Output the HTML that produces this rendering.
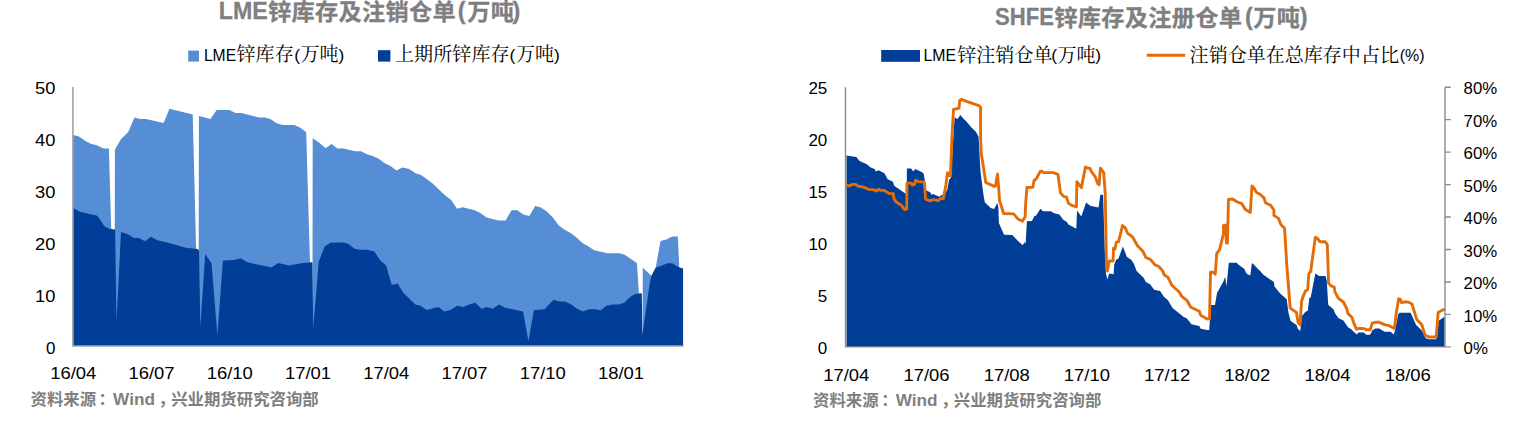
<!DOCTYPE html>
<html lang="zh"><head><meta charset="utf-8"><title>LME / SHFE 锌库存</title>
<style>html,body{margin:0;padding:0;background:#fff}svg{display:block}</style></head><body>
<svg width="1530" height="422" viewBox="0 0 1530 422">
<rect width="1530" height="422" fill="#fff"/>
<g id="left-chart">
<polygon points="73.0,346.0 73.0,134.9 79.0,136.5 85.9,141.2 90.8,143.8 96.7,145.3 103.6,148.5 108.9,148.5 114.6,346.0 114.9,149.7 120.9,139.2 128.2,132.0 134.5,117.4 140.0,119.0 145.9,119.0 163.6,123.1 169.5,108.8 192.7,114.5 198.6,346.0 198.9,116.0 210.4,119.0 216.7,110.1 229.5,110.1 235.4,112.9 241.3,112.9 259.0,117.4 264.9,117.4 270.8,119.2 276.7,123.3 282.6,124.9 294.4,124.9 300.3,127.8 306.2,132.2 312.4,346.0 312.7,138.3 319.3,142.7 325.6,148.2 331.5,144.1 337.4,148.4 343.3,148.4 355.1,151.3 361.0,151.3 366.9,154.3 372.8,155.9 378.7,158.8 384.6,163.2 390.5,166.1 396.4,170.4 402.3,167.5 409.3,169.0 415.9,173.6 421.1,175.0 433.0,183.8 445.2,195.6 451.2,200.0 457.0,208.8 462.6,207.2 474.8,210.2 480.3,213.0 486.6,217.5 498.4,220.4 505.6,220.4 511.5,210.2 517.4,210.2 523.4,214.5 529.3,216.1 535.2,205.9 541.0,207.4 547.0,211.8 552.9,217.5 558.8,225.4 564.7,229.7 570.6,233.0 576.5,237.4 582.4,242.9 587.7,245.9 594.2,250.2 607.4,253.2 619.2,253.2 624.7,254.7 636.9,263.0 642.5,346.0 642.8,267.7 648.7,273.2 651.5,275.8 654.6,274.0 660.5,241.0 666.4,239.6 672.3,236.6 677.8,236.6 683.1,346.0 683.1,346.0" fill="#558ED5"/>
<polygon points="73.0,346.0 73.0,207.8 79.7,211.7 97.4,215.7 104.3,226.1 109.2,228.8 115.1,229.4 116.5,322.1 121.0,232.0 127.9,234.3 133.8,237.9 138.7,237.9 145.0,241.2 150.9,236.7 157.4,240.3 168.2,242.8 185.9,247.7 197.7,249.1 199.0,250.5 200.3,327.0 205.2,254.0 211.5,263.5 217.4,335.0 222.9,260.5 234.1,259.9 240.6,258.3 246.9,261.9 258.7,264.8 271.5,267.4 278.0,262.9 289.2,265.4 301.0,263.3 311.8,262.3 312.4,262.5 313.2,328.6 318.7,261.9 324.6,246.5 330.5,242.8 343.3,242.4 347.9,243.8 354.8,248.7 359.7,249.7 367.5,249.7 374.4,251.6 380.3,260.5 386.2,265.4 391.7,285.1 397.6,283.5 403.5,293.0 415.3,304.4 420.7,305.7 426.6,310.1 438.4,307.1 444.3,311.6 450.2,310.1 457.4,305.7 463.4,307.1 469.3,304.4 475.2,302.8 481.6,308.7 487.0,307.1 492.9,308.7 498.8,304.4 505.3,307.7 523.0,311.6 528.5,341.2 533.8,310.3 544.6,309.3 553.5,299.8 559.4,301.4 565.3,301.4 571.2,304.4 577.1,308.7 583.0,311.6 588.9,309.3 594.8,309.3 600.7,310.3 606.6,305.7 612.5,304.4 618.4,304.4 624.3,302.8 630.2,296.9 635.1,293.9 641.0,293.2 641.8,293.5 642.4,334.9 647.7,297.6 649.7,283.9 651.7,275.0 655.6,267.7 661.5,265.8 667.4,263.2 672.3,263.2 678.2,267.1 683.1,268.5 683.1,346.0" fill="#003E98"/>
<path d="M72.9 87 V346 H683.4" fill="none" stroke="#a3a3a3" stroke-width="1.6"/>
<text font-family="&quot;Liberation Sans&quot;, &quot;Noto Sans CJK SC&quot;, sans-serif" fill="#7f7f7f" font-weight="bold" stroke="#7f7f7f" stroke-width="0.3"><tspan x="218.8" y="18.6" font-size="23.5" textLength="49.0" lengthAdjust="spacingAndGlyphs">LME</tspan><tspan x="268.0" y="19.6" font-size="23.2" letter-spacing="0.3">锌库存及注销仓单</tspan><tspan x="457.8" y="18.6" font-size="23.5">(</tspan><tspan x="467.2" y="19.6" font-size="23.2" letter-spacing="0.3">万吨</tspan><tspan x="512.6" y="18.6" font-size="23.5">)</tspan></text>
<rect x="188.2" y="50.6" width="10.8" height="11" fill="#558ED5"/>
<text font-family="&quot;Liberation Sans&quot;, &quot;Noto Serif CJK SC&quot;, serif" fill="#000"><tspan x="203.9" y="60.9" font-size="17.4" textLength="32.2" lengthAdjust="spacingAndGlyphs">LME</tspan><tspan x="236.4" y="61.4" font-size="19.05" letter-spacing="0.12">锌库存</tspan><tspan x="294.2" y="60.9" font-size="17.4">(</tspan><tspan x="300.4" y="61.4" font-size="19.05" letter-spacing="0.12">万吨</tspan><tspan x="338.4" y="60.9" font-size="17.4">)</tspan></text>
<rect x="378" y="50.2" width="12.4" height="11.4" fill="#003E98"/>
<text font-family="&quot;Liberation Sans&quot;, &quot;Noto Serif CJK SC&quot;, serif" fill="#000"><tspan x="395.0" y="61.4" font-size="19.05" letter-spacing="0.08">上期所锌库存</tspan><tspan x="509.6" y="60.9" font-size="17.4">(</tspan><tspan x="516.0" y="61.4" font-size="19.05" letter-spacing="0.08">万吨</tspan><tspan x="554.0" y="60.9" font-size="17.4">)</tspan></text>
<text x="55.5" y="94.1" font-size="17" text-anchor="end" textLength="20.4" lengthAdjust="spacingAndGlyphs" fill="#000" font-family="&quot;Liberation Sans&quot;, &quot;Noto Sans CJK SC&quot;, sans-serif">50</text>
<text x="55.5" y="146.1" font-size="17" text-anchor="end" textLength="20.4" lengthAdjust="spacingAndGlyphs" fill="#000" font-family="&quot;Liberation Sans&quot;, &quot;Noto Sans CJK SC&quot;, sans-serif">40</text>
<text x="55.5" y="198.1" font-size="17" text-anchor="end" textLength="20.4" lengthAdjust="spacingAndGlyphs" fill="#000" font-family="&quot;Liberation Sans&quot;, &quot;Noto Sans CJK SC&quot;, sans-serif">30</text>
<text x="55.5" y="250.1" font-size="17" text-anchor="end" textLength="20.4" lengthAdjust="spacingAndGlyphs" fill="#000" font-family="&quot;Liberation Sans&quot;, &quot;Noto Sans CJK SC&quot;, sans-serif">20</text>
<text x="55.5" y="302.1" font-size="17" text-anchor="end" textLength="20.4" lengthAdjust="spacingAndGlyphs" fill="#000" font-family="&quot;Liberation Sans&quot;, &quot;Noto Sans CJK SC&quot;, sans-serif">10</text>
<text x="55.5" y="354.1" font-size="17" text-anchor="end" fill="#000" font-family="&quot;Liberation Sans&quot;, &quot;Noto Sans CJK SC&quot;, sans-serif">0</text>
<text x="73.3" y="378.9" font-size="17" text-anchor="middle" textLength="46.1" lengthAdjust="spacingAndGlyphs" fill="#000" font-family="&quot;Liberation Sans&quot;, &quot;Noto Sans CJK SC&quot;, sans-serif">16/04</text>
<text x="151.55" y="378.9" font-size="17" text-anchor="middle" textLength="46.1" lengthAdjust="spacingAndGlyphs" fill="#000" font-family="&quot;Liberation Sans&quot;, &quot;Noto Sans CJK SC&quot;, sans-serif">16/07</text>
<text x="229.8" y="378.9" font-size="17" text-anchor="middle" textLength="46.1" lengthAdjust="spacingAndGlyphs" fill="#000" font-family="&quot;Liberation Sans&quot;, &quot;Noto Sans CJK SC&quot;, sans-serif">16/10</text>
<text x="308.05" y="378.9" font-size="17" text-anchor="middle" textLength="46.1" lengthAdjust="spacingAndGlyphs" fill="#000" font-family="&quot;Liberation Sans&quot;, &quot;Noto Sans CJK SC&quot;, sans-serif">17/01</text>
<text x="386.3" y="378.9" font-size="17" text-anchor="middle" textLength="46.1" lengthAdjust="spacingAndGlyphs" fill="#000" font-family="&quot;Liberation Sans&quot;, &quot;Noto Sans CJK SC&quot;, sans-serif">17/04</text>
<text x="464.55" y="378.9" font-size="17" text-anchor="middle" textLength="46.1" lengthAdjust="spacingAndGlyphs" fill="#000" font-family="&quot;Liberation Sans&quot;, &quot;Noto Sans CJK SC&quot;, sans-serif">17/07</text>
<text x="542.8" y="378.9" font-size="17" text-anchor="middle" textLength="46.1" lengthAdjust="spacingAndGlyphs" fill="#000" font-family="&quot;Liberation Sans&quot;, &quot;Noto Sans CJK SC&quot;, sans-serif">17/10</text>
<text x="621.05" y="378.9" font-size="17" text-anchor="middle" textLength="46.1" lengthAdjust="spacingAndGlyphs" fill="#000" font-family="&quot;Liberation Sans&quot;, &quot;Noto Sans CJK SC&quot;, sans-serif">18/01</text>
<text font-family="&quot;Liberation Sans&quot;, &quot;Noto Sans CJK SC&quot;, sans-serif" fill="#7f7f7f" font-weight="bold"><tspan x="30.5" y="405.2" font-size="16.4">资料来源</tspan><tspan x="98.6" y="405.2" font-size="16.4">：</tspan><tspan x="113.1" y="404.9" font-size="17.2">Wind</tspan><tspan x="158.6" y="405.2" font-size="16.4">，</tspan><tspan x="171.2" y="405.2" font-size="16.4">兴业期货研究咨询部</tspan></text>
</g>
<g id="right-chart">
<polygon points="846.5,346.9 846.5,155.4 856.3,157.0 859.6,160.9 866.8,164.2 870.7,167.5 874.6,169.0 875.9,171.4 878.6,170.3 884.4,173.3 887.7,179.2 892.9,181.8 894.2,185.8 905.4,193.6 906.7,193.6 906.9,168.5 911.2,168.5 913.2,171.4 915.2,169.0 921.7,172.0 923.7,173.7 925.0,181.8 926.3,190.6 930.2,192.3 931.5,194.8 933.1,193.9 939.3,196.8 942.0,194.8 943.9,195.5 947.2,189.7 949.2,179.5 951.1,177.5 952.5,150.0 954.6,118.0 955.4,117.4 957.4,119.3 960.3,115.0 963.3,118.4 966.2,121.3 971.2,127.2 976.1,132.1 978.6,137.1 980.0,162.6 980.5,171.4 982.2,185.0 983.5,195.0 984.8,202.2 990.7,208.1 994.2,208.9 997.3,203.0 998.4,207.6 998.9,223.0 1003.8,234.2 1004.7,234.7 1012.3,234.9 1017.5,240.6 1022.7,245.3 1024.7,242.1 1025.6,244.0 1026.9,221.3 1031.9,221.0 1034.6,215.8 1035.8,215.9 1040.4,208.7 1043.0,211.3 1050.8,211.3 1054.1,213.3 1059.3,214.6 1063.3,219.8 1066.5,221.8 1068.5,224.4 1076.3,228.7 1077.0,210.4 1081.3,216.6 1086.1,202.4 1090.2,205.7 1098.5,207.6 1100.4,194.5 1103.1,194.9 1104.8,249.9 1105.9,272.8 1107.2,279.4 1109.2,273.5 1113.7,274.2 1114.1,264.7 1116.3,259.4 1118.3,258.8 1122.9,246.6 1126.8,256.8 1131.4,260.1 1134.0,264.0 1136.6,270.9 1143.8,278.1 1145.8,282.0 1150.3,284.6 1154.2,289.8 1160.1,291.1 1164.1,297.0 1168.0,300.2 1172.5,308.0 1181.0,314.7 1183.7,317.0 1186.9,318.4 1191.5,324.2 1199.3,326.1 1200.7,328.8 1207.2,330.1 1209.2,330.1 1210.9,305.0 1215.0,305.0 1217.0,293.1 1223.5,281.3 1225.2,276.8 1226.5,286.6 1228.8,262.7 1236.6,262.7 1238.6,264.7 1244.4,268.9 1246.4,273.5 1250.3,275.5 1251.6,265.0 1252.3,263.1 1258.2,269.2 1259.5,270.2 1263.4,274.8 1273.9,282.0 1274.5,286.6 1280.2,293.6 1286.7,299.2 1288.5,313.0 1290.5,320.8 1296.8,325.2 1297.6,328.5 1300.3,331.1 1301.6,318.1 1302.2,315.8 1305.5,311.7 1307.7,310.8 1309.4,297.7 1310.7,297.5 1315.3,273.6 1319.2,275.9 1325.5,275.9 1326.8,280.8 1328.2,304.8 1333.6,309.4 1334.9,313.0 1338.2,317.9 1343.4,320.5 1348.0,327.2 1351.2,329.2 1354.5,332.5 1357.1,334.4 1358.4,332.5 1363.7,332.5 1366.3,334.8 1370.2,334.8 1372.2,330.5 1375.4,328.5 1379.3,328.5 1384.6,331.8 1390.5,331.8 1393.7,334.4 1395.0,330.5 1398.3,314.2 1399.6,312.7 1410.7,312.7 1416.0,324.7 1421.8,330.5 1425.8,338.3 1429.0,339.2 1436.2,339.2 1437.5,331.1 1438.8,320.8 1444.1,317.0 1444.6,317.0 1444.6,346.9" fill="#003E98"/>
<polyline points="845.9,185.1 849.2,186.0 852.4,184.4 855.7,184.4 857.6,186.0 863.5,187.1 868.8,189.4 874.6,189.9 876.6,191.0 878.6,189.4 880.5,190.3 884.4,190.5 889.0,193.4 893.3,193.8 893.9,198.7 896.2,202.0 901.4,205.3 904.7,209.6 906.7,209.2 907.0,183.1 911.2,183.1 912.5,185.1 914.5,184.4 915.6,180.3 918.4,181.6 924.3,182.1 925.6,199.1 930.2,200.9 933.5,199.6 938.0,200.7 941.3,198.1 943.3,198.7 945.9,185.0 947.5,172.7 948.5,175.3 950.5,175.9 951.8,140.0 953.5,109.5 959.0,108.1 959.7,100.7 961.3,99.3 967.2,101.6 979.0,105.6 980.6,107.5 980.6,137.0 981.2,153.1 982.7,162.6 985.8,182.5 994.2,186.4 995.6,185.8 997.5,174.2 998.8,189.7 999.5,200.7 999.9,201.5 1003.6,213.5 1013.7,213.9 1017.6,218.7 1022.4,221.2 1025.2,216.5 1025.6,204.6 1026.9,187.5 1032.8,187.2 1034.1,180.5 1036.2,178.9 1040.3,171.2 1041.6,171.2 1043.5,172.6 1053.3,172.6 1057.9,174.3 1060.5,192.9 1063.8,196.6 1066.4,196.9 1068.4,203.1 1071.7,205.4 1076.4,206.8 1076.9,181.8 1081.4,187.7 1085.4,167.0 1087.3,168.1 1089.9,168.1 1091.2,171.3 1095.2,176.6 1097.8,183.8 1099.1,184.8 1100.4,168.1 1103.7,172.6 1105.2,192.9 1105.6,215.0 1106.5,267.3 1107.3,271.0 1109.2,261.0 1113.1,261.0 1113.5,248.3 1115.0,249.0 1116.3,242.2 1118.6,241.6 1122.5,225.6 1125.5,228.2 1127.4,233.1 1132.6,237.0 1137.5,245.8 1143.1,251.6 1145.8,257.5 1150.3,259.4 1154.9,264.7 1158.8,266.5 1162.7,270.9 1164.1,274.8 1168.0,277.4 1171.9,285.3 1179.7,292.5 1181.7,296.4 1186.9,300.3 1190.8,307.3 1199.3,311.3 1200.7,315.2 1207.2,319.0 1209.5,318.8 1210.5,272.2 1213.1,272.2 1215.3,274.2 1216.4,258.0 1216.7,253.6 1219.6,249.6 1223.5,233.3 1223.5,225.5 1225.5,225.2 1226.5,243.1 1227.4,243.1 1228.1,215.0 1228.5,199.4 1232.7,199.0 1237.3,202.0 1241.8,203.7 1245.1,209.2 1250.3,212.5 1252.0,185.9 1254.2,188.3 1256.2,192.2 1260.1,194.2 1264.1,198.1 1265.4,202.7 1270.6,205.3 1273.9,209.9 1273.9,215.4 1278.4,218.4 1281.0,224.8 1284.6,228.3 1286.9,267.0 1287.2,270.0 1290.2,308.1 1296.4,312.4 1298.1,322.5 1300.0,324.8 1301.6,301.4 1302.9,296.8 1305.5,290.9 1307.7,289.6 1308.8,273.9 1310.7,271.4 1315.3,237.4 1317.3,238.1 1319.9,241.7 1325.1,241.7 1327.3,244.6 1328.6,283.1 1331.0,285.9 1334.2,287.0 1334.9,291.6 1338.2,298.1 1343.4,302.0 1346.7,308.6 1348.0,313.6 1351.9,317.2 1353.9,323.3 1356.5,329.2 1358.4,328.5 1363.7,328.5 1366.3,329.8 1370.2,329.8 1372.2,323.1 1375.4,322.3 1379.3,322.3 1384.6,324.6 1389.2,325.7 1394.4,328.5 1396.3,312.8 1398.7,298.8 1400.3,299.4 1401.6,302.7 1404.2,302.0 1408.1,302.0 1412.0,304.0 1416.6,319.2 1421.8,324.7 1425.1,335.1 1429.0,337.0 1436.2,337.0 1438.2,312.3 1444.8,309.0" fill="none" stroke="#E36C09" stroke-width="2.9" stroke-linejoin="round" stroke-linecap="butt"/>
<path d="M845.5 87.2 V346.9 H1445 V87.2" fill="none" stroke="#8c8c8c" stroke-width="1.4"/>
<path d="M1445 87.20 h5.8M1445 119.66 h5.8M1445 152.12 h5.8M1445 184.58 h5.8M1445 217.04 h5.8M1445 249.50 h5.8M1445 281.96 h5.8M1445 314.42 h5.8M1445 346.88 h5.8" fill="none" stroke="#8c8c8c" stroke-width="1.4"/>
<text font-family="&quot;Liberation Sans&quot;, &quot;Noto Sans CJK SC&quot;, sans-serif" fill="#7f7f7f" font-weight="bold" stroke="#7f7f7f" stroke-width="0.3"><tspan x="995.1" y="24.6" font-size="23.5" textLength="58.9" lengthAdjust="spacingAndGlyphs">SHFE</tspan><tspan x="1054.3" y="25.6" font-size="23.2" letter-spacing="0.3">锌库存及注册仓单</tspan><tspan x="1244.9" y="24.6" font-size="23.5">(</tspan><tspan x="1253.3" y="25.6" font-size="23.2" letter-spacing="0.3">万吨</tspan><tspan x="1299.8" y="24.6" font-size="23.5">)</tspan></text>
<rect x="881.2" y="50" width="38.8" height="11.8" fill="#003E98"/>
<text font-family="&quot;Liberation Sans&quot;, &quot;Noto Serif CJK SC&quot;, serif" fill="#000"><tspan x="923.5" y="61.1" font-size="17.4" textLength="32.6" lengthAdjust="spacingAndGlyphs">LME</tspan><tspan x="957.3" y="61.6" font-size="19.05">锌注销仓单</tspan><tspan x="1051.2" y="61.1" font-size="17.4">(</tspan><tspan x="1057.4" y="61.6" font-size="19.05">万吨</tspan><tspan x="1095.3" y="61.1" font-size="17.4">)</tspan></text>
<path d="M1146.8 55.2 H1185.2" stroke="#E36C09" stroke-width="3" fill="none"/>
<text font-family="&quot;Liberation Sans&quot;, &quot;Noto Serif CJK SC&quot;, serif" fill="#000"><tspan x="1189.6" y="61.6" font-size="19.05">注销仓单在总库存中占比</tspan><tspan x="1399.8" y="61.1" font-size="17.4" textLength="24.8" lengthAdjust="spacingAndGlyphs">(%)</tspan></text>
<text x="827.3" y="94.1" font-size="17" text-anchor="end" fill="#000" font-family="&quot;Liberation Sans&quot;, &quot;Noto Sans CJK SC&quot;, sans-serif">25</text>
<text x="827.3" y="146.1" font-size="17" text-anchor="end" fill="#000" font-family="&quot;Liberation Sans&quot;, &quot;Noto Sans CJK SC&quot;, sans-serif">20</text>
<text x="827.3" y="198.1" font-size="17" text-anchor="end" fill="#000" font-family="&quot;Liberation Sans&quot;, &quot;Noto Sans CJK SC&quot;, sans-serif">15</text>
<text x="827.3" y="250.1" font-size="17" text-anchor="end" fill="#000" font-family="&quot;Liberation Sans&quot;, &quot;Noto Sans CJK SC&quot;, sans-serif">10</text>
<text x="827.3" y="302.1" font-size="17" text-anchor="end" fill="#000" font-family="&quot;Liberation Sans&quot;, &quot;Noto Sans CJK SC&quot;, sans-serif">5</text>
<text x="827.3" y="354.1" font-size="17" text-anchor="end" fill="#000" font-family="&quot;Liberation Sans&quot;, &quot;Noto Sans CJK SC&quot;, sans-serif">0</text>
<text x="1463.6" y="94.0" font-size="17" textLength="33.6" lengthAdjust="spacingAndGlyphs" fill="#000" font-family="&quot;Liberation Sans&quot;, &quot;Noto Sans CJK SC&quot;, sans-serif">80%</text>
<text x="1463.6" y="126.5" font-size="17" textLength="33.6" lengthAdjust="spacingAndGlyphs" fill="#000" font-family="&quot;Liberation Sans&quot;, &quot;Noto Sans CJK SC&quot;, sans-serif">70%</text>
<text x="1463.6" y="159.0" font-size="17" textLength="33.6" lengthAdjust="spacingAndGlyphs" fill="#000" font-family="&quot;Liberation Sans&quot;, &quot;Noto Sans CJK SC&quot;, sans-serif">60%</text>
<text x="1463.6" y="191.5" font-size="17" textLength="33.6" lengthAdjust="spacingAndGlyphs" fill="#000" font-family="&quot;Liberation Sans&quot;, &quot;Noto Sans CJK SC&quot;, sans-serif">50%</text>
<text x="1463.6" y="224.0" font-size="17" textLength="33.6" lengthAdjust="spacingAndGlyphs" fill="#000" font-family="&quot;Liberation Sans&quot;, &quot;Noto Sans CJK SC&quot;, sans-serif">40%</text>
<text x="1463.6" y="256.5" font-size="17" textLength="33.6" lengthAdjust="spacingAndGlyphs" fill="#000" font-family="&quot;Liberation Sans&quot;, &quot;Noto Sans CJK SC&quot;, sans-serif">30%</text>
<text x="1463.6" y="289.0" font-size="17" textLength="33.6" lengthAdjust="spacingAndGlyphs" fill="#000" font-family="&quot;Liberation Sans&quot;, &quot;Noto Sans CJK SC&quot;, sans-serif">20%</text>
<text x="1463.6" y="321.5" font-size="17" textLength="33.6" lengthAdjust="spacingAndGlyphs" fill="#000" font-family="&quot;Liberation Sans&quot;, &quot;Noto Sans CJK SC&quot;, sans-serif">10%</text>
<text x="1463.6" y="354.0" font-size="17" textLength="24.3" lengthAdjust="spacingAndGlyphs" fill="#000" font-family="&quot;Liberation Sans&quot;, &quot;Noto Sans CJK SC&quot;, sans-serif">0%</text>
<text x="846.3" y="381" font-size="17" text-anchor="middle" textLength="46.1" lengthAdjust="spacingAndGlyphs" fill="#000" font-family="&quot;Liberation Sans&quot;, &quot;Noto Sans CJK SC&quot;, sans-serif">17/04</text>
<text x="926.5" y="381" font-size="17" text-anchor="middle" textLength="46.1" lengthAdjust="spacingAndGlyphs" fill="#000" font-family="&quot;Liberation Sans&quot;, &quot;Noto Sans CJK SC&quot;, sans-serif">17/06</text>
<text x="1006.6999999999999" y="381" font-size="17" text-anchor="middle" textLength="46.1" lengthAdjust="spacingAndGlyphs" fill="#000" font-family="&quot;Liberation Sans&quot;, &quot;Noto Sans CJK SC&quot;, sans-serif">17/08</text>
<text x="1086.9" y="381" font-size="17" text-anchor="middle" textLength="46.1" lengthAdjust="spacingAndGlyphs" fill="#000" font-family="&quot;Liberation Sans&quot;, &quot;Noto Sans CJK SC&quot;, sans-serif">17/10</text>
<text x="1167.1" y="381" font-size="17" text-anchor="middle" textLength="46.1" lengthAdjust="spacingAndGlyphs" fill="#000" font-family="&quot;Liberation Sans&quot;, &quot;Noto Sans CJK SC&quot;, sans-serif">17/12</text>
<text x="1247.3" y="381" font-size="17" text-anchor="middle" textLength="46.1" lengthAdjust="spacingAndGlyphs" fill="#000" font-family="&quot;Liberation Sans&quot;, &quot;Noto Sans CJK SC&quot;, sans-serif">18/02</text>
<text x="1327.5" y="381" font-size="17" text-anchor="middle" textLength="46.1" lengthAdjust="spacingAndGlyphs" fill="#000" font-family="&quot;Liberation Sans&quot;, &quot;Noto Sans CJK SC&quot;, sans-serif">18/04</text>
<text x="1407.6999999999998" y="381" font-size="17" text-anchor="middle" textLength="46.1" lengthAdjust="spacingAndGlyphs" fill="#000" font-family="&quot;Liberation Sans&quot;, &quot;Noto Sans CJK SC&quot;, sans-serif">18/06</text>
<text font-family="&quot;Liberation Sans&quot;, &quot;Noto Sans CJK SC&quot;, sans-serif" fill="#7f7f7f" font-weight="bold"><tspan x="813.1" y="405.8" font-size="16.4">资料来源</tspan><tspan x="881.2" y="405.8" font-size="16.4">：</tspan><tspan x="895.7" y="405.5" font-size="17.2">Wind</tspan><tspan x="941.2" y="405.8" font-size="16.4">，</tspan><tspan x="953.8" y="405.8" font-size="16.4">兴业期货研究咨询部</tspan></text>
</g>
</svg></body></html>
